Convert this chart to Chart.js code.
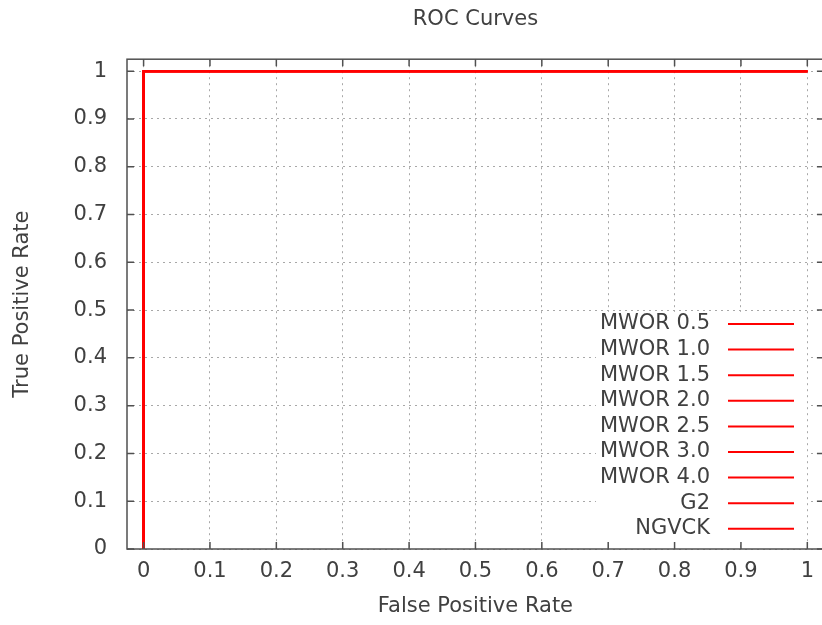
<!DOCTYPE html>
<html>
<head>
<meta charset="utf-8">
<script src="https://cdn.jsdelivr.net/npm/chart.js@4"></script>
<style>
  html, body { margin: 0; padding: 0; overflow: hidden; background: #fff; }
  canvas { display: block; }
</style>
</head>
<body>
<canvas id="roc" width="824" height="625"></canvas>
<script>
// all nine classifiers give the same perfect ROC curve
const seriesNames = ["MWOR 0.5", "MWOR 1.0", "MWOR 1.5", "MWOR 2.0", "MWOR 2.5",
  "MWOR 3.0", "MWOR 4.0", "G2", "NGVCK"];
const fpr = [0, 0, 1];
const tpr = [0, 1, 1];

const xTicks = [0, 0.1, 0.2, 0.3, 0.4, 0.5, 0.6, 0.7, 0.8, 0.9, 1];
const xTickLabels = ["0", "0.1", "0.2", "0.3", "0.4", "0.5", "0.6", "0.7", "0.8", "0.9", "1"];
const yTicks = [0, 0.1, 0.2, 0.3, 0.4, 0.5, 0.6, 0.7, 0.8, 0.9, 1];
const yTickLabels = ["0", "0.1", "0.2", "0.3", "0.4", "0.5", "0.6", "0.7", "0.8", "0.9", "1"];

const textColor = "#404040";
const lineColor = "#ff0000";

Chart.defaults.font.family = "'DejaVu Sans', sans-serif";
Chart.defaults.font.size = 21;
Chart.defaults.color = textColor;

// gnuplot-like frame with inward ticks on all four sides + opaque key
const gnuFrame = {
  id: "gnuFrame",
  beforeDatasetsDraw(chart) {
    const ctx = chart.ctx;
    ctx.save();
    ctx.fillStyle = "#fff";
    ctx.fillRect(596, 312, 211, 232);
    ctx.restore();
  },
  afterDraw(chart) {
    const { ctx, chartArea: a, scales } = chart;
    const tick = 7;
    ctx.save();
    ctx.strokeStyle = "#505050";
    ctx.lineWidth = 1.5;
    ctx.strokeRect(a.left, a.top, a.right - a.left, a.bottom - a.top);
    ctx.beginPath();
    xTicks.forEach(v => {
      const px = scales.x.getPixelForValue(v);
      ctx.moveTo(px, a.bottom); ctx.lineTo(px, a.bottom - tick);
      ctx.moveTo(px, a.top); ctx.lineTo(px, a.top + tick);
    });
    yTicks.forEach(v => {
      const py = scales.y.getPixelForValue(v);
      ctx.moveTo(a.left, py); ctx.lineTo(a.left + tick, py);
      ctx.moveTo(a.right, py); ctx.lineTo(a.right - tick, py);
    });
    ctx.stroke();

    // key: label right-aligned, then line sample
    ctx.font = "21px 'DejaVu Sans', sans-serif";
    ctx.textAlign = "right";
    ctx.textBaseline = "middle";
    seriesNames.forEach((name, i) => {
      const ly = 324 + i * 25.6;
      ctx.fillStyle = textColor;
      ctx.fillText(name, 710, ly);
      ctx.strokeStyle = lineColor;
      ctx.lineWidth = 2;
      ctx.beginPath();
      ctx.moveTo(728, ly);
      ctx.lineTo(794, ly);
      ctx.stroke();
    });
    ctx.restore();
  }
};

new Chart(document.getElementById("roc"), {
  type: "scatter",
  data: {
    datasets: seriesNames.map(name => ({
      label: name,
      data: fpr.map((x, i) => ({ x: x, y: tpr[i] })),
      showLine: true,
      borderColor: lineColor,
      backgroundColor: lineColor,
      borderWidth: 2,
      pointRadius: 0,
      fill: false,
    })),
  },
  options: {
    responsive: false,
    animation: false,
    layout: { padding: 0 },
    plugins: {
      legend: { display: false },
      tooltip: { enabled: false },
      title: {
        display: true,
        text: "ROC Curves",
        fullSize: false,
        color: textColor,
        font: { size: 21, weight: "normal" },
        padding: { top: 7, bottom: 27 },
      },
    },
    scales: {
      x: {
        type: "linear",
        min: -0.025,
        max: 1.025,
        afterBuildTicks: (scale) => { scale.ticks = xTicks.map(v => ({ value: v })); },
        afterFit: (scale) => { scale.height = 76; },
        ticks: {
          padding: 10,
          maxRotation: 0,
          autoSkip: false,
          callback: (value, index) => xTickLabels[index],
        },
        grid: { color: "#a8a8a8", lineWidth: 1, drawTicks: false },
        border: { display: false, dash: [2, 4] },
        title: {
          display: true,
          text: "False Positive Rate",
          color: textColor,
          padding: { top: 0, bottom: 6 },
        },
      },
      y: {
        type: "linear",
        min: 0,
        max: 1.025,
        afterBuildTicks: (scale) => { scale.ticks = yTicks.map(v => ({ value: v })); },
        afterFit: (scale) => { scale.width = 127; },
        ticks: {
          padding: 20,
          autoSkip: false,
          callback: (value, index) => yTickLabels[index],
        },
        grid: { color: "#a8a8a8", lineWidth: 1, drawTicks: false },
        border: { display: false, dash: [2, 4] },
        title: {
          display: true,
          text: "True Positive Rate",
          color: textColor,
          padding: { top: 10, bottom: 0 },
        },
      },
    },
  },
  plugins: [gnuFrame],
});
</script>
</body>
</html>
